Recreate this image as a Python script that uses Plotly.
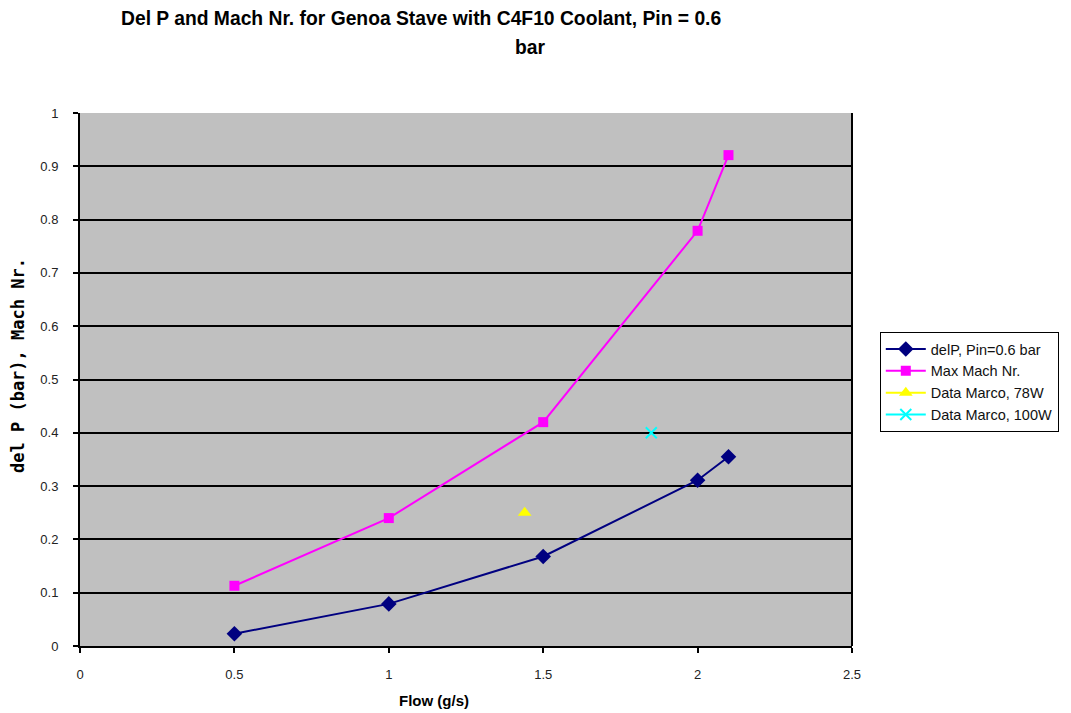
import plotly.graph_objects as go

# Flow rates (g/s) and simulated results
flow = [0.5, 1.0, 1.5, 2.0, 2.1]
del_p = [0.023, 0.079, 0.168, 0.311, 0.355]
max_mach = [0.113, 0.240, 0.420, 0.779, 0.921]

# Measured points
marco_78w_flow = [1.44]
marco_78w_val = [0.25]
marco_100w_flow = [1.85]
marco_100w_val = [0.40]

x_ticks = [0, 0.5, 1, 1.5, 2, 2.5]
y_ticks = [0, 0.1, 0.2, 0.3, 0.4, 0.5, 0.6, 0.7, 0.8, 0.9, 1]

FONT = "Liberation Sans, Arial, sans-serif"

fig = go.Figure()
fig.add_trace(go.Scatter(
    x=flow, y=del_p, mode="lines+markers", name="delP, Pin=0.6 bar",
    line=dict(color="#000080", width=2),
    marker=dict(symbol="diamond", size=12, color="#000080"),
))
fig.add_trace(go.Scatter(
    x=flow, y=max_mach, mode="lines+markers", name="Max Mach Nr.",
    line=dict(color="#FF00FF", width=2),
    marker=dict(symbol="square", size=10, color="#FF00FF"),
))
fig.add_trace(go.Scatter(
    x=marco_78w_flow, y=marco_78w_val, mode="lines+markers", name="Data Marco, 78W",
    line=dict(color="#FFFF00", width=2),
    marker=dict(symbol="triangle-up", size=12, color="#FFFF00"),
))
fig.add_trace(go.Scatter(
    x=marco_100w_flow, y=marco_100w_val, mode="lines+markers", name="Data Marco, 100W",
    line=dict(color="#00FFFF", width=2),
    marker=dict(symbol="x-thin-open", size=11, color="#00FFFF",
                line=dict(color="#00FFFF", width=2)),
))

fig.update_layout(
    width=1071, height=713,
    margin=dict(l=80, r=219, t=113, b=67),
    paper_bgcolor="white",
    plot_bgcolor="#C0C0C0",
    font=dict(family=FONT, size=13, color="#222222"),
    showlegend=True,
    legend=dict(
        x=1.036, xanchor="left", y=0.589, yanchor="top",
        bgcolor="white", bordercolor="black", borderwidth=1,
        font=dict(family=FONT, size=14.5, color="#111111"),
        tracegroupgap=0, itemwidth=40,
    ),
    annotations=[
        dict(text="<b>Del P and Mach Nr. for Genoa Stave with C4F10 Coolant, Pin = 0.6</b>",
             xref="paper", yref="paper", x=(421 - 80) / 772, y=(646 - 18) / 533,
             xanchor="center", yanchor="middle", showarrow=False,
             font=dict(family=FONT, size=19.3, color="black")),
        dict(text="<b>bar</b>",
             xref="paper", yref="paper", x=(530 - 80) / 772, y=(646 - 48) / 533,
             xanchor="center", yanchor="middle", showarrow=False,
             font=dict(family=FONT, size=19.3, color="black")),
        dict(text="<b>Flow (g/s)</b>",
             xref="paper", yref="paper", x=(434 - 80) / 772, y=(646 - 700) / 533,
             xanchor="center", yanchor="middle", showarrow=False,
             font=dict(family=FONT, size=15, color="black")),
        dict(text="<b>del P (bar), Mach Nr.</b>", textangle=-90,
             xref="paper", yref="paper", x=(18 - 80) / 772, y=(646 - 366) / 533,
             xanchor="center", yanchor="middle", showarrow=False,
             font=dict(family="DejaVu Sans Mono, monospace", size=17, color="black")),
    ],
)

fig.update_xaxes(
    range=[0, 2.5], tickvals=x_ticks, ticktext=[f"{v:g}" for v in x_ticks],
    showgrid=False, zeroline=False,
    showline=True, linecolor="black", linewidth=2, mirror=False,
    ticks="outside", ticklen=5, tickwidth=2, tickcolor="black",
    ticklabelstandoff=10,
)
fig.update_yaxes(
    range=[0, 1], tickvals=y_ticks, ticktext=[f"{v:g}" for v in y_ticks],
    showgrid=True, gridcolor="black", gridwidth=2, zeroline=False,
    showline=True, linecolor="black", linewidth=2, mirror=False,
    ticks="outside", ticklen=5, tickwidth=2, tickcolor="black",
    ticklabelstandoff=12,
)

# Frame on the right edge of the plotting area
fig.add_shape(type="line", xref="paper", yref="paper", x0=1, x1=1, y0=0, y1=1,
              line=dict(color="black", width=2))

fig.write_html("out.html")
